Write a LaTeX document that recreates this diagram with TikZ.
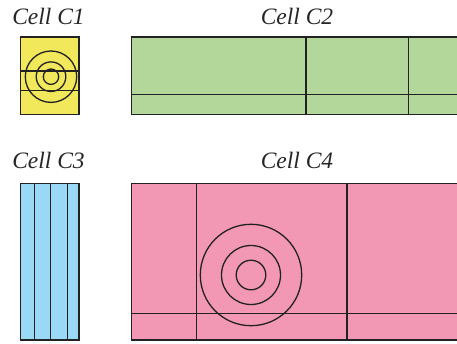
\documentclass[tikz,border=0pt]{standalone}
\usepackage{fontspec}
\setmainfont{Liberation Serif}
\definecolor{cyel}{HTML}{F2E85B}
\definecolor{cgrn}{HTML}{B3D69A}
\definecolor{cblu}{HTML}{99D9F5}
\definecolor{cpnk}{HTML}{F298B5}
\definecolor{cline}{HTML}{222222}
\tikzset{
  celllabel/.style={font=\fontsize{23.5}{27}\selectfont\itshape, text=black!85, anchor=base, inner sep=0pt},
  cellbox/.style={draw=cline, line width=1.4pt},
  cellline/.style={draw=cline, line width=1.3pt}
}
\begin{document}
\begin{tikzpicture}[x=1pt,y=-1pt]
\useasboundingbox (0,0) rectangle (457,343);
\clip (0,0) rectangle (457,343);
% labels
\node[celllabel] (l1) at (48.5,24) {Cell C1};
\node[celllabel] (l2) at (297,24) {Cell C2};
\node[celllabel] (l3) at (48.5,168) {Cell C3};
\node[celllabel] (l4) at (297,168) {Cell C4};
% C1
\fill[cyel] (20.7,37) rectangle (79,114.5);
\draw[cellline] (20.7,71) -- (79,71) (20.7,90.7) -- (79,90.7);
\draw[cellline] (51,76.7) circle[radius=25.7] (51,76.7) circle[radius=14.8] (51,76.7) circle[radius=7.7];
\draw[cellbox] (20.7,37) rectangle (79,114.5);
% C2
\fill[cgrn] (131.5,37) rectangle (470,114.5);
\draw[cellline] (306,37) -- (306,114.5) (408.7,37) -- (408.7,114.5) (131.5,94.3) -- (470,94.3);
\draw[cellbox] (131.5,37) rectangle (470,114.5);
% C3
\fill[cblu] (20.7,183.7) rectangle (79,340);
\draw[cellline] (34.3,183.7) -- (34.3,340) (50.3,183.7) -- (50.3,340) (67.3,183.7) -- (67.3,340);
\draw[cellbox] (20.7,183.7) rectangle (79,340);
% C4
\fill[cpnk] (131.5,183.7) rectangle (470,340);
\draw[cellline] (196.3,183.7) -- (196.3,340) (347,183.7) -- (347,340) (131.5,313.3) -- (470,313.3);
\draw[cellline] (251,275) circle[radius=50.7] (251,275) circle[radius=29.5] (251,275) circle[radius=14.8];
\draw[cellbox] (131.5,183.7) rectangle (470,340);
\end{tikzpicture}
\end{document}
